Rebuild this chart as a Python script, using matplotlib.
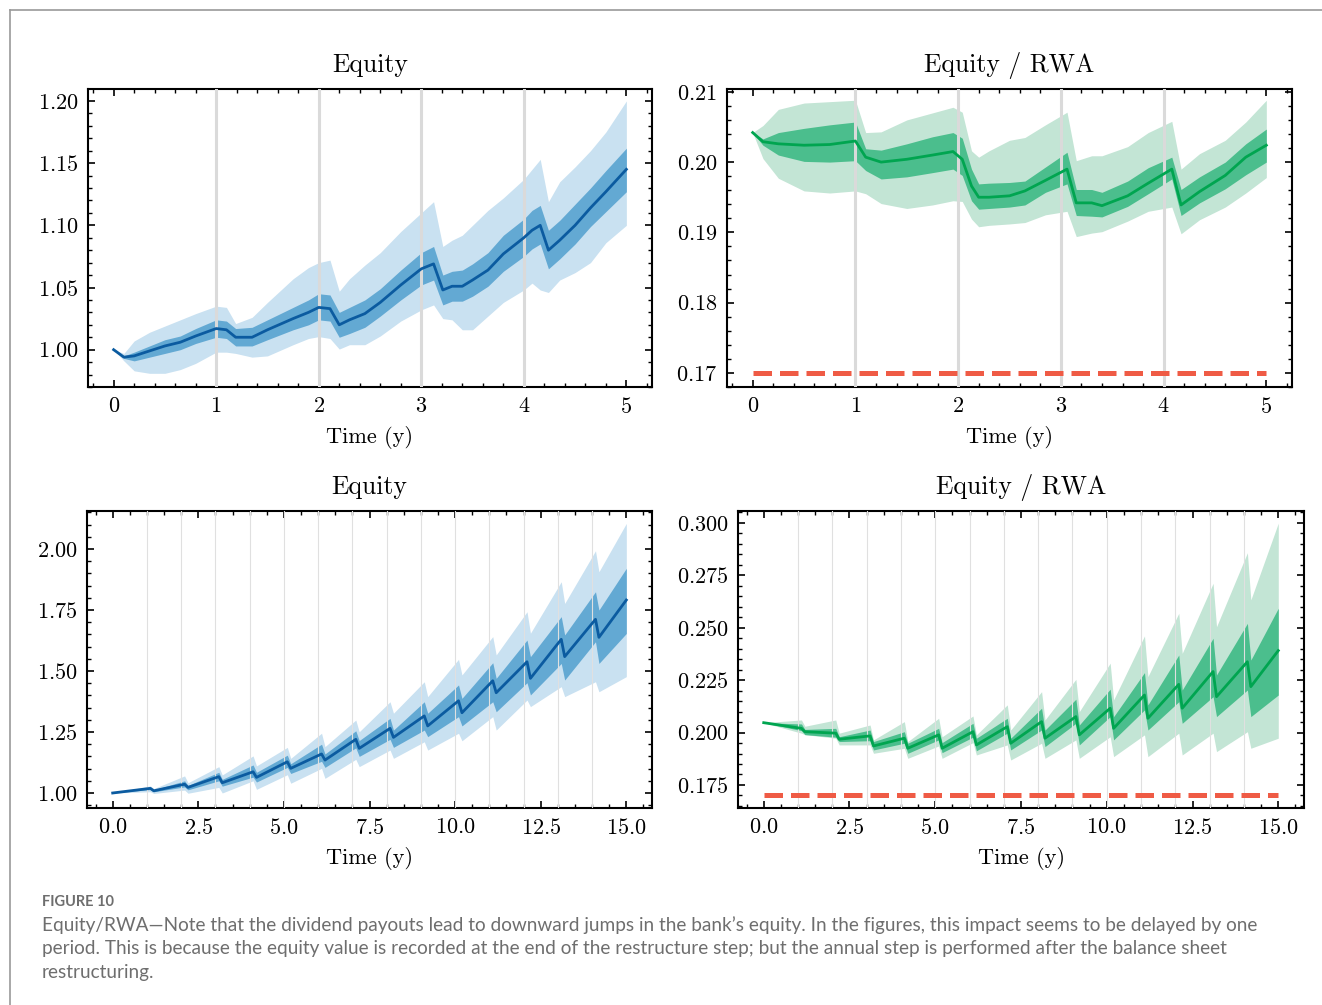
import numpy as np
import matplotlib.pyplot as plt
from matplotlib.ticker import AutoMinorLocator
from matplotlib.lines import Line2D

# ---- data ----
# 5 year run (top row)
t_short = [0, 0.1, 0.2, 0.35, 0.5, 0.65, 0.8, 1.0, 1.1, 1.19, 1.35, 1.5, 1.75, 1.9, 2.0,
           2.11, 2.2, 2.3, 2.45, 2.6, 2.8, 3.0, 3.12, 3.21, 3.3, 3.4, 3.5, 3.65, 3.8, 4.0,
           4.08, 4.16, 4.24, 4.35, 4.5, 4.65, 4.8, 5.0]
eq_med = [1.000, 0.994, 0.995, 0.999, 1.003, 1.006, 1.011, 1.017, 1.016, 1.010,
          1.010, 1.016, 1.025, 1.030, 1.034, 1.033, 1.020, 1.024, 1.029, 1.038,
          1.052, 1.065, 1.069, 1.048, 1.051, 1.051, 1.056, 1.064, 1.077, 1.090,
          1.096, 1.100, 1.080, 1.088, 1.100, 1.114, 1.127, 1.145]
eq_hi_out = [1.000, 0.997, 1.007, 1.014, 1.019, 1.024, 1.029, 1.035, 1.034, 1.021,
             1.026, 1.038, 1.057, 1.066, 1.070, 1.072, 1.047, 1.057, 1.068, 1.078,
             1.095, 1.110, 1.119, 1.083, 1.088, 1.092, 1.100, 1.112, 1.122, 1.137,
             1.145, 1.153, 1.119, 1.135, 1.147, 1.160, 1.175, 1.200]
eq_lo_out = [1.000, 0.991, 0.983, 0.981, 0.981, 0.984, 0.989, 0.998, 0.998, 0.997,
             0.994, 0.995, 1.004, 1.009, 1.0105, 1.009, 1.0005, 1.004, 1.004, 1.011,
             1.023, 1.032, 1.036, 1.025, 1.024, 1.016, 1.016, 1.027, 1.038, 1.048,
             1.0535, 1.048, 1.046, 1.056, 1.062, 1.070, 1.086, 1.100]
eq_hi_in = [1.000, 0.995, 0.998, 1.003, 1.008, 1.011, 1.017, 1.024, 1.023, 1.017,
            1.018, 1.024, 1.034, 1.040, 1.045, 1.044, 1.030, 1.034, 1.040, 1.049,
            1.064, 1.078, 1.083, 1.060, 1.063, 1.064, 1.069, 1.078, 1.092, 1.105,
            1.112, 1.116, 1.096, 1.104, 1.117, 1.130, 1.144, 1.162]
eq_lo_in = [1.000, 0.993, 0.991, 0.994, 0.997, 1.000, 1.005, 1.010, 1.009, 1.003,
            1.003, 1.008, 1.016, 1.020, 1.024, 1.023, 1.010, 1.013, 1.018, 1.027,
            1.040, 1.052, 1.056, 1.036, 1.039, 1.039, 1.043, 1.051, 1.063, 1.075,
            1.081, 1.085, 1.065, 1.073, 1.085, 1.099, 1.111, 1.127]

t_short_r = [0, 0.1, 0.25, 0.5, 0.75, 1.0, 1.1, 1.25, 1.5, 1.75, 1.95, 2.04, 2.13, 2.2, 2.3,
             2.5, 2.65, 2.85, 3.06, 3.15, 3.3, 3.4, 3.65, 3.85, 4.08, 4.17, 4.35, 4.6, 4.8, 5.0]
rwa_med = [0.2042, 0.2029, 0.2026, 0.2024, 0.2025, 0.2030, 0.2007, 0.2000, 0.2004, 0.2010,
           0.2015, 0.2004, 0.1966, 0.1950, 0.1950, 0.1952, 0.1959, 0.1974, 0.1990, 0.1942,
           0.1942, 0.1938, 0.1952, 0.1970, 0.1990, 0.1939, 0.1958, 0.1981, 0.2007, 0.2024]
rwa_hi_out = [0.2042, 0.2052, 0.2075, 0.2084, 0.2086, 0.2088, 0.2042, 0.2043, 0.2060, 0.2070,
              0.2078, 0.2071, 0.2016, 0.2007, 0.2016, 0.2031, 0.2035, 0.2053, 0.2071, 0.2002,
              0.2009, 0.2009, 0.2022, 0.2042, 0.2058, 0.1990, 0.2012, 0.2031, 0.2057, 0.2088]
rwa_lo_out = [0.2042, 0.2005, 0.1977, 0.1959, 0.1956, 0.1959, 0.1955, 0.1941, 0.1934, 0.1939,
              0.1945, 0.1944, 0.1919, 0.1908, 0.1910, 0.1912, 0.1914, 0.1925, 0.1930, 0.1894,
              0.1899, 0.1901, 0.1916, 0.1930, 0.1936, 0.1898, 0.1918, 0.1936, 0.1956, 0.1978]
rwa_hi_in = [0.2042, 0.2033, 0.2042, 0.2048, 0.2053, 0.2057, 0.2019, 0.2017, 0.2026, 0.2036,
             0.2042, 0.2034, 0.1990, 0.1969, 0.1970, 0.1971, 0.1973, 0.1993, 0.2014, 0.1961,
             0.1961, 0.1957, 0.1973, 0.1992, 0.2007, 0.1961, 0.1979, 0.2000, 0.2026, 0.2047]
rwa_lo_in = [0.2042, 0.2024, 0.2010, 0.2001, 0.2000, 0.2002, 0.1988, 0.1976, 0.1979, 0.1985,
             0.1990, 0.1981, 0.1945, 0.1933, 0.1934, 0.1936, 0.1939, 0.1957, 0.1969, 0.1924,
             0.1923, 0.1922, 0.1937, 0.1955, 0.1976, 0.1924, 0.1942, 0.1962, 0.1982, 0.2000]

# 15 year run (bottom row): start, then peak / after-dividend value each year, end
t_long = [0, 1.1, 1.2, 2.1, 2.2, 3.1, 3.2, 4.1, 4.2, 5.1, 5.2, 6.1, 6.2, 7.1, 7.2,
          8.1, 8.2, 9.1, 9.2, 10.1, 10.2, 11.1, 11.2, 12.1, 12.2, 13.1, 13.2, 14.1, 14.2, 15]
eqL_med = [1.000, 1.019, 1.009, 1.036, 1.023, 1.067, 1.042, 1.087, 1.064, 1.128, 1.101,
           1.160, 1.135, 1.220, 1.183, 1.265, 1.228, 1.316, 1.275, 1.378, 1.329,
           1.460, 1.411, 1.538, 1.470, 1.630, 1.559, 1.712, 1.638, 1.791]
eqL_hi_out = [1.000, 1.029, 1.018, 1.070, 1.042, 1.108, 1.074, 1.152, 1.111, 1.187, 1.142,
              1.245, 1.190, 1.299, 1.251, 1.374, 1.327, 1.456, 1.395, 1.548, 1.484,
              1.641, 1.566, 1.743, 1.655, 1.866, 1.777, 1.993, 1.907, 2.105]
eqL_lo_out = [1.000, 1.005, 0.998, 1.012, 0.999, 1.023, 1.000, 1.050, 1.015, 1.075, 1.040,
              1.101, 1.060, 1.138, 1.108, 1.176, 1.142, 1.210, 1.176, 1.245, 1.214,
              1.313, 1.258, 1.381, 1.354, 1.436, 1.395, 1.456, 1.415, 1.477]
eqL_hi_in = [1.000, 1.023, 1.013, 1.050, 1.031, 1.085, 1.056, 1.115, 1.085, 1.155, 1.120,
             1.200, 1.160, 1.255, 1.215, 1.306, 1.258, 1.374, 1.327, 1.443, 1.388,
             1.534, 1.470, 1.627, 1.559, 1.723, 1.648, 1.825, 1.750, 1.921]
eqL_lo_in = [1.000, 1.014, 1.005, 1.025, 1.013, 1.050, 1.028, 1.065, 1.045, 1.105, 1.080,
             1.130, 1.105, 1.185, 1.150, 1.220, 1.187, 1.258, 1.231, 1.313, 1.275,
             1.374, 1.333, 1.452, 1.402, 1.531, 1.463, 1.620, 1.531, 1.654]

rwaL_med = [0.2047, 0.2020, 0.2004, 0.1997, 0.1968, 0.1984, 0.1936, 0.1973, 0.1925, 0.1989,
            0.1925, 0.2004, 0.1941, 0.2028, 0.1949, 0.2052, 0.1973, 0.2076, 0.1989, 0.2116,
            0.2020, 0.2179, 0.2068, 0.2230, 0.2116, 0.2291, 0.2171, 0.2338, 0.2219, 0.2391]
rwaL_hi_out = [0.2047, 0.2060, 0.2030, 0.2060, 0.1997, 0.2036, 0.1965, 0.2052, 0.1957, 0.2068,
               0.1980, 0.2079, 0.1989, 0.2132, 0.2012, 0.2195, 0.2060, 0.2254, 0.2100, 0.2331,
               0.2156, 0.2461, 0.2267, 0.2569, 0.2378, 0.2712, 0.2505, 0.2858, 0.2633, 0.2999]
rwaL_lo_out = [0.2047, 0.1997, 0.1990, 0.1973, 0.1941, 0.1941, 0.1901, 0.1925, 0.1877, 0.1936,
               0.1877, 0.1952, 0.1893, 0.1941, 0.1869, 0.1949, 0.1877, 0.1965, 0.1877, 0.1980,
               0.1885, 0.1989, 0.1885, 0.1997, 0.1893, 0.1997, 0.1909, 0.2004, 0.1925, 0.1973]
rwaL_hi_in = [0.2047, 0.2041, 0.2015, 0.2020, 0.1980, 0.2012, 0.1957, 0.2004, 0.1949, 0.2020,
              0.1952, 0.2044, 0.1973, 0.2068, 0.1973, 0.2116, 0.2012, 0.2159, 0.2036, 0.2207,
              0.2076, 0.2286, 0.2132, 0.2370, 0.2203, 0.2450, 0.2275, 0.2521, 0.2346, 0.2593]
rwaL_lo_in = [0.2047, 0.2009, 0.1990, 0.1978, 0.1957, 0.1961, 0.1917, 0.1949, 0.1901, 0.1965,
              0.1904, 0.1978, 0.1913, 0.1997, 0.1917, 0.2012, 0.1933, 0.2044, 0.1941, 0.2076,
              0.1965, 0.2108, 0.2012, 0.2147, 0.2044, 0.2171, 0.2076, 0.2203, 0.2076, 0.2179]

capital_floor = 0.17
years_short = [1, 2, 3, 4]
years_long = list(range(1, 15))

caption_head = "FIGURE 10"
caption_lines = [
    "Equity/RWA\u2014Note that the dividend payouts lead to downward jumps in the bank\u2019s equity. In the figures, this impact seems to be delayed by one",
    "period. This is because the equity value is recorded at the end of the restructure step; but the annual step is performed after the balance sheet",
    "restructuring.",
]

# ---- style ----
plt.rcParams['font.family'] = ['cmr10', 'DejaVu Serif']
plt.rcParams['mathtext.fontset'] = 'cm'
plt.rcParams['axes.formatter.use_mathtext'] = True
plt.rcParams['axes.linewidth'] = 1.5

BLUE = ('#C9E1F1', '#63A9D3', '#0B5BA0')
GREEN = ('#C3E5D5', '#4BBE8D', '#00A550')
RED = '#EF5B45'


def panel(ax, t, lo_out, lo_in, med, hi_in, hi_out, cols, years, vlw, vcol):
    ax.fill_between(t, lo_out, hi_out, color=cols[0], lw=0, zorder=1)
    ax.fill_between(t, lo_in, hi_in, color=cols[1], lw=0, zorder=2)
    for y in years:
        ax.axvline(y, color=vcol, lw=vlw, zorder=3)
    ax.plot(t, med, color=cols[2], lw=2.0, zorder=4)
    ax.xaxis.set_minor_locator(AutoMinorLocator())
    ax.yaxis.set_minor_locator(AutoMinorLocator())
    ax.tick_params(which='both', direction='in', top=True, right=True, labelsize=16, pad=7)
    ax.tick_params(which='major', length=5, width=1.2)
    ax.tick_params(which='minor', length=3, width=1.0)
    ax.set_xlabel('Time (y)', fontsize=16, labelpad=7)


fig = plt.figure(figsize=(13.22, 10.05), dpi=100)
W, H = 1322, 1005


def add_ax(l, r, top, bot):
    return fig.add_axes([l / W, 1 - bot / H, (r - l) / W, (bot - top) / H])


ax1 = add_ax(88, 652, 89, 387)
ax2 = add_ax(727, 1292, 89, 387)
ax3 = add_ax(87, 652, 511, 808)
ax4 = add_ax(738, 1304, 511, 808)

panel(ax1, t_short, eq_lo_out, eq_lo_in, eq_med, eq_hi_in, eq_hi_out,
      BLUE, years_short, 2.2, '#DADADA')
ax1.set_xlim(-0.25, 5.25)
ax1.set_ylim(0.970, 1.2096)
ax1.set_title('Equity', fontsize=18.5, pad=12)

panel(ax2, t_short_r, rwa_lo_out, rwa_lo_in, rwa_med, rwa_hi_in, rwa_hi_out,
      GREEN, years_short, 2.2, '#DADADA')
ax2.plot([t_short_r[0], t_short_r[-1]], [capital_floor, capital_floor],
         color=RED, lw=3.6, ls='--', zorder=5)
ax2.set_xlim(-0.25, 5.25)
ax2.set_ylim(0.168, 0.2104)
ax2.set_title('Equity / RWA', fontsize=18.5, pad=12)

panel(ax3, t_long, eqL_lo_out, eqL_lo_in, eqL_med, eqL_hi_in, eqL_hi_out,
      BLUE, years_long, 0.8, '#E0E0E0')
ax3.set_xlim(-0.75, 15.75)
ax3.set_ylim(0.9385, 2.156)
ax3.set_title('Equity', fontsize=18.5, pad=12)

panel(ax4, t_long, rwaL_lo_out, rwaL_lo_in, rwaL_med, rwaL_hi_in, rwaL_hi_out,
      GREEN, years_long, 0.8, '#E0E0E0')
ax4.plot([t_long[0], t_long[-1]], [capital_floor, capital_floor],
         color=RED, lw=3.6, ls='--', zorder=5)
ax4.set_xlim(-0.75, 15.75)
ax4.set_ylim(0.164, 0.3057)
ax4.set_title('Equity / RWA', fontsize=18.5, pad=12)

# frame around the figure (open to the right and bottom, as cropped)
fig.add_artist(Line2D([10 / W, 1.0], [1 - 10 / H, 1 - 10 / H], color='#9A9A9A', lw=1.2))
fig.add_artist(Line2D([10 / W, 10 / W], [1 - 10 / H, 0.0], color='#9A9A9A', lw=1.2))

# caption
fig.text(42 / W, 1 - 902 / H, caption_head, fontsize=10.5, color='#6E6E6E',
         family=['Lato', 'DejaVu Sans'], fontweight='bold', va='center', ha='left')
for i, line in enumerate(caption_lines):
    fig.text(42 / W, 1 - (925 + 23.5 * i) / H, line, fontsize=13.7, color='#6E6E6E',
             family=['Lato', 'DejaVu Sans'], va='center', ha='left')

fig.savefig('out.png', dpi=100)
